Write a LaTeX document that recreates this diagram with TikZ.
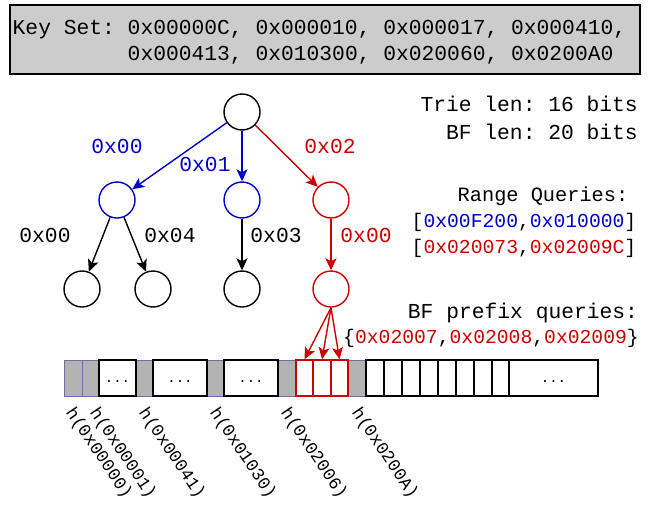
\documentclass[tikz,border=0pt]{standalone}
\usepackage{fontspec}
\setmonofont{Liberation Mono}
\usetikzlibrary{arrows.meta}
\definecolor{qblue}{RGB}{0,0,204}
\definecolor{qred}{RGB}{204,0,0}
\definecolor{boxgray}{RGB}{204,204,204}
\definecolor{cellgray}{RGB}{179,179,179}
\definecolor{cellrim}{RGB}{110,110,160}
\newcommand\mkcell[5]{\node[#1, minimum width={#4-#3}] (#2) at ({(#3+#4)/2},378) {#5};}
\begin{document}
\begin{tikzpicture}[x=1pt,y=-1pt,
  trienode/.style={circle, draw, line width=1.4pt, minimum size=36pt, inner sep=0pt},
  edge/.style={line width=1.4pt, -{Stealth[length=12pt,width=11pt,inset=3pt]}},
  lbl/.style={font=\fontsize{21.3}{25}\selectfont\ttfamily, inner sep=0pt, anchor=base},
  qlbl/.style={font=\fontsize{19.7}{23}\selectfont\ttfamily, inner sep=0pt, anchor=base},
  hlbl/.style={font=\fontsize{17.5}{21}\selectfont\ttfamily, inner sep=0pt, anchor=north west, rotate=-56},
  cellbase/.style={rectangle, minimum height=36, inner sep=0pt, text height=9pt, text depth=0pt,
     font=\fontsize{14}{16}\selectfont\ttfamily},
  gcell/.style={cellbase, fill=cellgray, draw=cellrim, line width=0.9pt},
  wcell/.style={cellbase, fill=white, draw=black, line width=1.4pt},
  rcell/.style={cellbase, fill=white, draw=qred, line width=1.4pt},
]
\useasboundingbox (0,0) rectangle (652,506);

% key set box
\node[draw, fill=boxgray, line width=1.4pt, minimum width=630, minimum height=69, inner sep=0pt] (keybox) at (325,39.5) {};
\node[lbl, anchor=base west] (keys1) at (12.5,34) {Key Set: 0x00000C, 0x000010, 0x000017, 0x000410,};
\node[lbl, anchor=base west] (keys2) at (12.5,60) {\phantom{Key0Set:0}0x000413, 0x010300, 0x020060, 0x0200A0};

% trie
\node[trienode] (root) at (242,112) {};
\node[trienode, draw=qblue] (n0) at (117,200) {};
\node[trienode, draw=qblue] (n1) at (242,200) {};
\node[trienode, draw=qred] (n2) at (331,200) {};
\node[trienode] (n00) at (82,289) {};
\node[trienode] (n04) at (153,289) {};
\node[trienode] (n13) at (242,289) {};
\node[trienode, draw=qred] (n20) at (331,289) {};

\draw[edge, qblue] (root) -- (n0);
\draw[edge, qblue] (root) -- (n1);
\draw[edge, qred] (root) -- (n2);
\draw[edge] (n0) -- (n00);
\draw[edge] (n0) -- (n04);
\draw[edge] (n1) -- (n13);
\draw[edge, qred] (n2) -- (n20);

\node[lbl, text=qblue] (e0) at (117,153) {0x00};
\node[lbl, text=qblue] (e1) at (205,171) {0x01};
\node[lbl, text=qred] (e2) at (330,153) {0x02};
\node[lbl] (e00) at (45,242) {0x00};
\node[lbl] (e04) at (170,242) {0x04};
\node[lbl] (e13) at (276,242) {0x03};
\node[lbl, text=qred] (e20) at (366,242) {0x00};

% right-hand texts
\node[lbl, anchor=base east] (trielen) at (638,111) {Trie len: 16 bits};
\node[lbl, anchor=base east] (bflen) at (638,139) {BF len: 20 bits};
\node[qlbl, font=\fontsize{20.3}{24}\selectfont\ttfamily] (rq) at (543,201) {Range Queries:};
\node[qlbl] (rq1) at (524,227) {[\textcolor{qblue}{0x00F200},\textcolor{qblue}{0x010000}]};
\node[qlbl] (rq2) at (524,253) {[\textcolor{qred}{0x020073},\textcolor{qred}{0x02009C}]};
\node[lbl] (bfq) at (523,318) {BF prefix queries:};
\node[qlbl] (bfq1) at (491,343) {\{\textcolor{qred}{0x02007},\textcolor{qred}{0x02008},\textcolor{qred}{0x02009}\}};

% bit array
\mkcell{gcell}{g1}{64}{82}{}
\mkcell{gcell}{g2}{82}{99}{}
\mkcell{gcell}{g3}{136}{153}{}
\mkcell{gcell}{g4}{207}{224}{}
\mkcell{gcell}{g5}{278}{296}{}
\mkcell{gcell}{g6}{348}{366}{}
\mkcell{wcell}{w1}{99}{136}{...}
\mkcell{wcell}{w2}{153}{207}{...}
\mkcell{wcell}{w3}{224}{278}{...}
\mkcell{rcell}{rc1}{296}{313}{}
\mkcell{rcell}{rc2}{313}{331}{}
\mkcell{rcell}{rc3}{331}{348}{}
\mkcell{wcell}{b1}{366}{384}{}
\mkcell{wcell}{b2}{384}{402}{}
\mkcell{wcell}{b3}{402}{420}{}
\mkcell{wcell}{b4}{420}{438}{}
\mkcell{wcell}{b5}{438}{456}{}
\mkcell{wcell}{b6}{456}{474}{}
\mkcell{wcell}{b7}{474}{492}{}
\mkcell{wcell}{b8}{492}{509}{}
\mkcell{wcell}{b9}{509}{598}{...}

\draw[edge, qred] (n20.south) -- (rc1.north);
\draw[edge, qred] (n20.south) -- (rc2.north);
\draw[edge, qred] (n20.south) -- (rc3.north);

% hash labels
\node[hlbl] (h1) at (76,405) {h(0x00000)};
\node[hlbl] (h2) at (100,405) {h(0x00001)};
\node[hlbl] (h3) at (149,405) {h(0x00041)};
\node[hlbl] (h4) at (220,405) {h(0x01030)};
\node[hlbl] (h5) at (291,405) {h(0x02006)};
\node[hlbl] (h6) at (362,405) {h(0x0200A)};
\end{tikzpicture}
\end{document}
